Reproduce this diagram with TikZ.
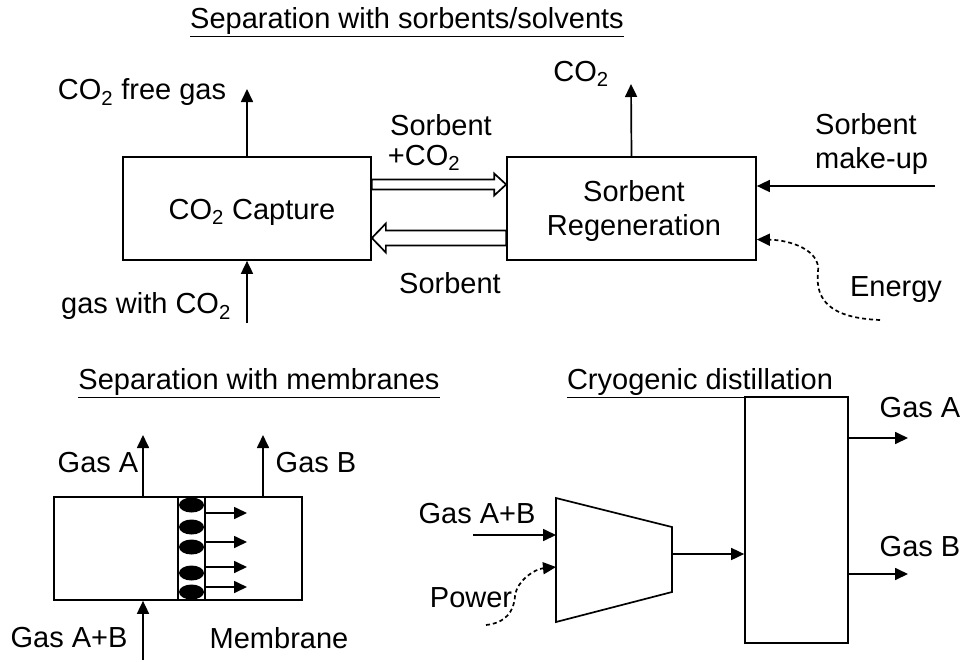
\documentclass[tikz,border=0pt]{standalone}
\usepackage{fontspec}
\setmainfont{Liberation Sans}
\usetikzlibrary{arrows.meta,calc}
\begin{document}
\begin{tikzpicture}[x=1pt,y=-1pt,
  lw/.style={line width=1.7pt},
  box/.style={draw,lw,inner sep=0pt},
  lbl/.style={font=\fontsize{29}{34}\selectfont,inner sep=0pt},
  arr/.style={lw,-{Triangle[length=13pt,width=12pt]}},
  dasharr/.style={lw,dash pattern=on 4pt off 3pt,-{Triangle[length=13pt,width=12pt]}},
  hollow/.style={draw,lw,fill=white,line join=miter}]
\useasboundingbox (0,0) rectangle (960,661);

% ---------- Sorbents / solvents ----------
\node[lbl] (t1) at (407,22) {\underline{Separation with sorbents/solvents}};
\node[box,minimum width=248pt,minimum height=103pt] (cap) at (247,208.5) {};
\node[lbl] (capt) at (252,212) {CO\textsubscript{2} Capture};
\node[box,minimum width=249pt,minimum height=103pt] (reg) at (631.5,208.5) {};
\node[lbl,align=center] (regt) at (634,211) {Sorbent\\Regeneration};

\coordinate (capup) at (247,89);
\coordinate (capin) at (247,323);
\draw[arr] (cap.north) -- (capup);
\draw[arr] (capin) -- (cap.south);
\node[lbl] (lfree) at (142,92) {CO\textsubscript{2} free gas};
\node[lbl] (lgas) at (146,306) {gas with CO\textsubscript{2}};

\coordinate (regup) at (631,84);
\draw[arr] (reg.north) -- (regup);
\node[lbl] (lco2) at (581,74) {CO\textsubscript{2}};

\coordinate (mkup) at (935,186);
\draw[arr] (mkup) -- (reg.east |- mkup);
\node[lbl,align=left,anchor=west] (lmk) at (815,144) {Sorbent\\make-up};

\coordinate (en0) at (880,320);
\draw[dasharr] (en0) .. controls (830,318) and (815,300) .. (818,272)
  .. controls (821,250) and (790,240) .. ($(reg.east)+(0,31)$);
\node[lbl] (len) at (896,290) {Energy};

% hollow arrows
\draw[hollow] ($(cap.east)+(0,-29)$) -- ($(reg.west)+(-12,-29)$) -- ($(reg.west)+(-12,-35)$)
  -- ($(reg.west)+(0,-24)$) -- ($(reg.west)+(-12,-13)$) -- ($(reg.west)+(-12,-19)$)
  -- ($(cap.east)+(0,-19)$) -- cycle;
\draw[hollow] ($(reg.west)+(0,22)$) -- ($(cap.east)+(14,22)$) -- ($(cap.east)+(14,15)$)
  -- ($(cap.east)+(0,29.5)$) -- ($(cap.east)+(14,44)$) -- ($(cap.east)+(14,37)$)
  -- ($(reg.west)+(0,37)$) -- cycle;
\node[lbl] (ls1) at (441,125) {Sorbent};
\node[lbl] (ls2) at (424,158) {+CO\textsubscript{2}};
\node[lbl] (ls3) at (450,283) {Sorbent};

% ---------- Membranes ----------
\node[lbl] (t2) at (259,383) {\underline{Separation with membranes}};
\node[box,minimum width=248pt,minimum height=103pt] (mem) at (178,548.5) {};
\node[box,minimum width=27pt,minimum height=103pt] (memb) at (191.5,548.5) {};
\foreach \yy in {505,527,547,573,592}
  \fill (191.5,\yy) ellipse [x radius=12.5, y radius=7.5];
\foreach \yy/\nm in {513/ma,542/mb,567/mc,587/md}{
  \coordinate (\nm) at (247,\yy);
  \draw[arr] (memb.east |- \nm) -- (\nm);
}
\coordinate (gA) at (143,435);
\coordinate (gB) at (263,435);
\coordinate (gAB) at (143,660);
\draw[arr] (mem.north -| gA) -- (gA);
\draw[arr] (mem.north -| gB) -- (gB);
\draw[arr] (gAB) -- (mem.south -| gAB);
\node[lbl] (lga) at (98,463) {Gas A};
\node[lbl] (lgb) at (316,463) {Gas B};
\node[lbl] (lgab) at (69,638) {Gas A+B};
\node[lbl] (lmem) at (279,638) {Membrane};

% ---------- Cryogenic ----------
\node[lbl] (t3) at (700,383) {\underline{Cryogenic distillation}};
\coordinate (c1) at (556,498);
\coordinate (c2) at (672,527);
\coordinate (c3) at (672,592);
\coordinate (c4) at (556,622);
\draw[lw,line join=miter] (c1) -- (c2) -- (c3) -- (c4) -- cycle;
\node[box,minimum width=103pt,minimum height=246pt] (col) at (796.5,520) {};
\coordinate (cout) at (672,554);
\draw[arr] (cout) -- (col.west |- cout);
\coordinate (gaout) at (908,438);
\coordinate (gbout) at (908,574);
\draw[arr] (col.east |- gaout) -- (gaout);
\draw[arr] (col.east |- gbout) -- (gbout);
\node[lbl] (lcga) at (920,408) {Gas A};
\node[lbl] (lcgb) at (920,547) {Gas B};
\coordinate (cin) at (473,535);
\draw[arr] (cin) -- (c1 |- cin);
\node[lbl] (lcab) at (477,514) {Gas A+B};
\coordinate (pw0) at (486,625);
\draw[dasharr] (pw0) .. controls (505,623) and (514,612) .. (515,596)
  .. controls (517,580) and (535,569) .. (c1 |- 0,567);
\node[lbl] (lpw) at (471,598) {Power};
\end{tikzpicture}
\end{document}
